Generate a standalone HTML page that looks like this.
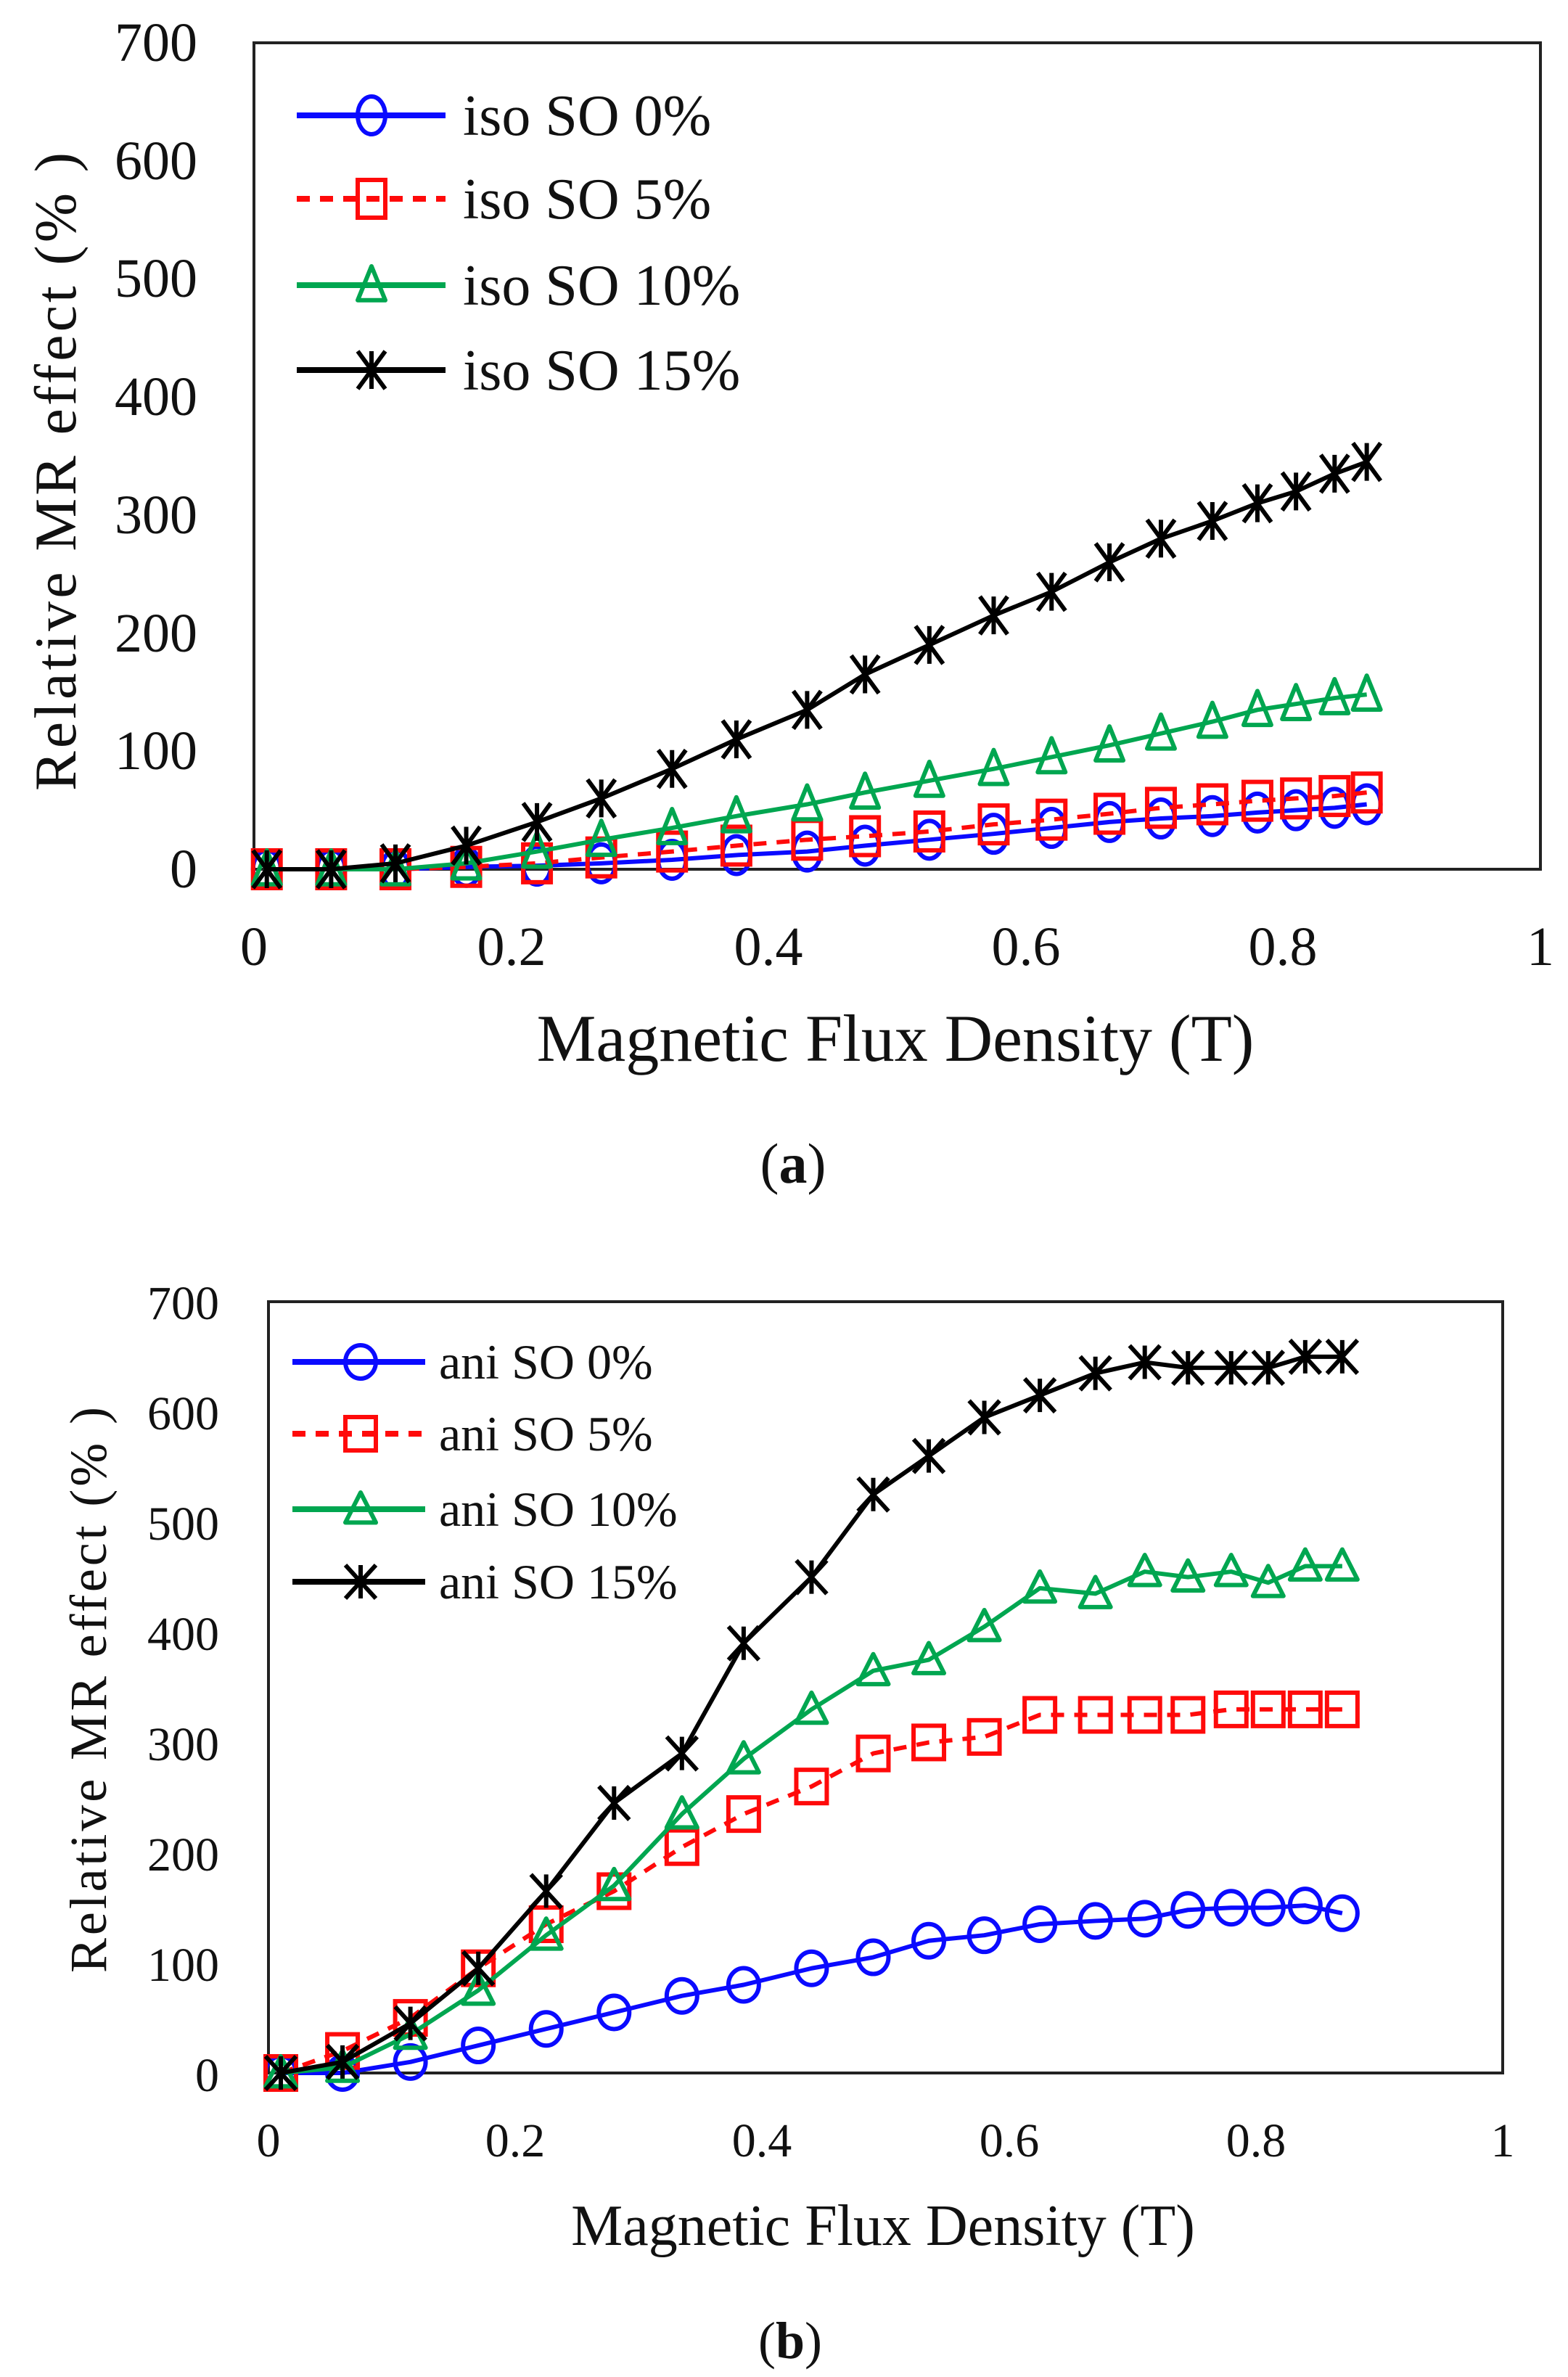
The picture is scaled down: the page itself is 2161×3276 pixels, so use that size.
<!DOCTYPE html>
<html><head><meta charset="utf-8"><style>
html,body{margin:0;padding:0;background:#fff;}
svg{display:block;}
text{font-family:"Liberation Serif",serif;fill:#111;}
</style></head><body>
<svg id="s" xmlns="http://www.w3.org/2000/svg" width="2161" height="3276" viewBox="0 0 2161 3276">
<rect width="2161" height="3276" fill="#fff"/>
<rect x="350" y="59" width="1773" height="1139" fill="none" stroke="#222" stroke-width="4"/>
<g font-size="76" text-anchor="end">
<text x="272" y="84">700</text><text x="272" y="247">600</text><text x="272" y="409">500</text>
<text x="272" y="572">400</text><text x="272" y="735">300</text><text x="272" y="898">200</text>
<text x="272" y="1060">100</text><text x="272" y="1223">0</text>
</g>
<g font-size="76" text-anchor="middle">
<text x="350" y="1330">0</text><text x="705" y="1330">0.2</text><text x="1059" y="1330">0.4</text>
<text x="1414" y="1330">0.6</text><text x="1768" y="1330">0.8</text><text x="2123" y="1330">1</text>
</g>
<text x="1234" y="1462" font-size="92" text-anchor="middle">Magnetic Flux Density (T)</text>
<text transform="translate(104,650) rotate(-90)" font-size="82" text-anchor="middle" textLength="880" lengthAdjust="spacing">Relative  MR effect (% )</text>
<text x="1093" y="1630" font-size="78" text-anchor="middle">(<tspan font-weight="bold">a</tspan>)</text>
<g font-size="80">
<text x="638" y="186">iso SO 0%</text><text x="638" y="301">iso SO 5%</text>
<text x="638" y="420">iso SO 10%</text><text x="638" y="537">iso SO 15%</text>
</g>
<rect x="370" y="1794" width="1701" height="1063" fill="none" stroke="#222" stroke-width="4"/>
<g font-size="66" text-anchor="end">
<text x="302" y="1818">700</text><text x="302" y="1970">600</text><text x="302" y="2122">500</text>
<text x="302" y="2274">400</text><text x="302" y="2426">300</text><text x="302" y="2578">200</text>
<text x="302" y="2730">100</text><text x="302" y="2882">0</text>
</g>
<g font-size="66" text-anchor="middle">
<text x="370" y="2972">0</text><text x="710" y="2972">0.2</text><text x="1050" y="2972">0.4</text>
<text x="1391" y="2972">0.6</text><text x="1731" y="2972">0.8</text><text x="2071" y="2972">1</text>
</g>
<text x="1217" y="3094" font-size="80" text-anchor="middle">Magnetic Flux Density (T)</text>
<text transform="translate(146,2329) rotate(-90)" font-size="72" text-anchor="middle" textLength="780" lengthAdjust="spacing">Relative  MR effect (% )</text>
<text x="1089" y="3250" font-size="72" text-anchor="middle">(<tspan font-weight="bold">b</tspan>)</text>
<g font-size="68">
<text x="605" y="1900">ani SO 0%</text><text x="605" y="1999">ani SO 5%</text>
<text x="605" y="2103">ani SO 10%</text><text x="605" y="2203">ani SO 15%</text>
</g>
<g id="g"></g>
</svg>
<script>
var NS="http://www.w3.org/2000/svg",G=document.getElementById('g');
function el(t,a){var e=document.createElementNS(NS,t);for(var k in a)e.setAttribute(k,a[k]);G.appendChild(e);return e;}
var C={0:'#0a0aff',1:'#ff0a0a',2:'#00a650',3:'#000'};
function marker(type,x,y,rx,ry,col,sw){
 if(type==0)el('ellipse',{cx:x,cy:y,rx:rx,ry:ry,fill:'none',stroke:col,'stroke-width':sw});
 else if(type==1)el('rect',{x:x-rx,y:y-ry,width:2*rx,height:2*ry,fill:'none',stroke:col,'stroke-width':sw});
 else if(type==2)el('polygon',{points:(x)+','+(y-ry)+' '+(x+rx)+','+(y+ry*0.8)+' '+(x-rx)+','+(y+ry*0.8),fill:'none',stroke:col,'stroke-width':sw,'stroke-linejoin':'round'});
 else{var d='M'+(x-rx)+' '+(y-ry)+'L'+(x+rx)+' '+(y+ry)+'M'+(x-rx)+' '+(y+ry)+'L'+(x+rx)+' '+(y-ry)+'M'+x+' '+(y-ry)+'L'+x+' '+(y+ry);
  el('path',{d:d,stroke:col,'stroke-width':sw,fill:'none'});}
}
function chart(o){
 for(var s=0;s<4;s++){
  var pts=o.xs.map(function(v,i){return [o.x0+v*o.sx,o.y0-o.d[s][i]*o.sy];});
  el('polyline',{points:pts.map(function(p){return p.join(',')}).join(' '),fill:'none',stroke:C[s],'stroke-width':o.lw,'stroke-dasharray':s==1?'18,14':'none','stroke-linejoin':'round'});
  pts.forEach(function(p){marker(s,p[0],p[1],o.rx,o.ry,C[s],o.msw);});
  var ly=o.ly[s];
  el('line',{x1:o.lx0,y1:ly,x2:o.lx1,y2:ly,stroke:C[s],'stroke-width':o.lw+2,'stroke-dasharray':s==1?'18,14':'none'});
  marker(s,o.lm,ly,o.rx,o.ry,C[s],o.msw);
 }
}
chart({x0:350,y0:1198,sx:1773,sy:1139/700,lw:6,msw:6,rx:19,ry:26,
 xs:[0.01,0.06,0.11,0.165,0.22,0.27,0.325,0.375,0.43,0.475,0.525,0.575,0.62,0.665,0.705,0.745,0.78,0.81,0.84,0.865],
 d:[[0,0,0,2,3,5,8,12,15,20,25,30,35,40,43,45,48,50,52,55],
    [0,0,0,2,5,10,15,20,25,28,32,38,42,47,52,55,58,60,62,65],
    [0,0,0,5,15,25,35,45,55,65,75,85,95,105,115,125,135,140,145,148],
    [0,0,5,20,40,60,85,110,135,165,190,215,235,260,280,295,310,320,335,345]],
 ly:[159,274,393,510],lx0:409,lx1:614,lm:512});
chart({x0:370,y0:2857,sx:1701,sy:1063/700,lw:6,msw:6,rx:21,ry:23,
 xs:[0.01,0.06,0.115,0.17,0.225,0.28,0.335,0.385,0.44,0.49,0.535,0.58,0.625,0.67,0.71,0.745,0.78,0.81,0.84,0.87],
 d:[[0,0,10,25,40,55,70,80,95,105,120,125,135,138,140,148,150,150,152,145],
    [0,20,50,95,135,165,205,235,260,290,300,305,325,325,325,325,330,330,330,330],
    [0,5,35,75,125,170,235,285,330,365,375,405,440,435,455,450,455,445,460,460],
    [0,10,45,95,165,245,290,390,450,525,560,595,615,635,645,640,640,640,650,650]],
 ly:[1877,1976,2080,2180],lx0:403,lx1:586,lm:497});
</script>
</body></html>
